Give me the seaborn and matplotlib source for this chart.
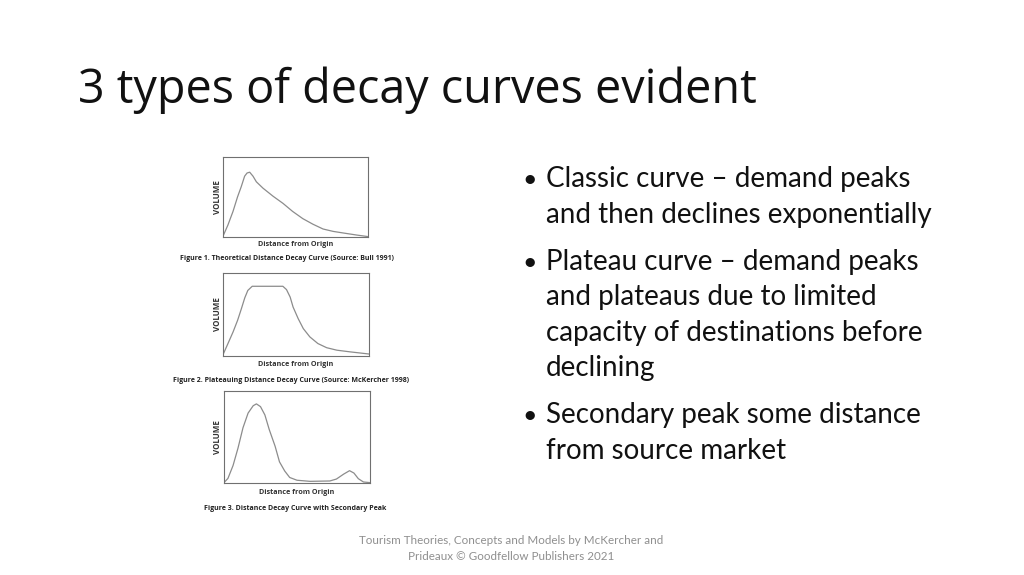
import matplotlib
matplotlib.use("Agg")
import matplotlib.pyplot as plt
import seaborn as sns

# curve readings (x: share of distance axis, y: share of volume axis)
classic_x = [0.0, 0.034, 0.069, 0.10, 0.126, 0.149, 0.166, 0.184, 0.207, 0.23, 0.276,
             0.345, 0.414, 0.48, 0.55, 0.62, 0.69, 0.76, 0.83, 0.92, 1.0]
classic_y = [0.01, 0.15, 0.32, 0.50, 0.63, 0.76, 0.80, 0.81, 0.76, 0.69, 0.61,
             0.51, 0.42, 0.32, 0.23, 0.16, 0.10, 0.07, 0.05, 0.025, 0.005]

plateau_x = [0.0, 0.034, 0.069, 0.10, 0.126, 0.149, 0.17, 0.2, 0.25, 0.34, 0.41, 0.435,
             0.46, 0.48, 0.515, 0.55, 0.595, 0.65, 0.71, 0.78, 0.87, 1.0]
plateau_y = [0.016, 0.15, 0.29, 0.43, 0.57, 0.70, 0.79, 0.84, 0.84, 0.84, 0.84, 0.80,
             0.71, 0.59, 0.45, 0.33, 0.23, 0.15, 0.10, 0.07, 0.05, 0.024]

secondary_x = [0.0, 0.027, 0.062, 0.096, 0.13, 0.165, 0.2, 0.222, 0.25, 0.28, 0.31, 0.35,
               0.38, 0.416, 0.45, 0.5, 0.59, 0.725, 0.77, 0.82, 0.86, 0.89, 0.92, 0.955, 1.0]
secondary_y = [0.004, 0.05, 0.19, 0.38, 0.60, 0.76, 0.84, 0.86, 0.83, 0.74, 0.58, 0.40,
               0.23, 0.13, 0.06, 0.03, 0.018, 0.022, 0.043, 0.097, 0.134, 0.108, 0.047, 0.011, 0.004]

captions = [
    "Figure 1. Theoretical Distance Decay Curve (Source: Bull 1991)",
    "Figure 2. Plateauing Distance Decay Curve (Source: McKercher 1998)",
    "Figure 3. Distance Decay Curve with Secondary Peak",
]

title = "3 types of decay curves evident"
bullets = [
    ["Classic curve \u2013 demand peaks", "and then declines exponentially"],
    ["Plateau curve \u2013 demand peaks", "and plateaus due to limited",
     "capacity of destinations before", "declining"],
    ["Secondary peak some distance", "from source market"],
]
footer = ["Tourism Theories, Concepts and Models by McKercher and",
          "Prideaux \u00a9 Goodfellow Publishers 2021"]

W, H = 1024, 575

sns.set_style("white")
plt.rcParams['font.family'] = ['Open Sans', 'DejaVu Sans']

fig = plt.figure(figsize=(W / 100, H / 100), dpi=100)
fig.patch.set_facecolor("white")


def px(x, y):
    return x / W, 1 - y / H


# panels: (left, top, right, bottom) in pixels
boxes = [(223, 157, 368, 237), (223, 273, 369, 356), (224, 391, 370, 483)]
curves = [(classic_x, classic_y), (plateau_x, plateau_y), (secondary_x, secondary_y)]
label_y = [244, 365, 492]
caption_y = [259, 381, 508]
caption_x = [287, 291, 295]

for i, ((l, t, r, b), (cx, cy)) in enumerate(zip(boxes, curves)):
    ax = fig.add_axes([l / W, 1 - b / H, (r - l) / W, (b - t) / H])
    sns.lineplot(x=cx, y=cy, ax=ax, color="#8c8c8c", linewidth=0.9)
    ax.set_xlim(0, 1)
    ax.set_ylim(0, 1)
    ax.set_xticks([])
    ax.set_yticks([])
    for s in ax.spines.values():
        s.set_color("#707070")
        s.set_linewidth(0.8)
    fig.text(*px(217, (t + b) / 2), "VOLUME", rotation=90, ha="center", va="center",
             fontsize=5.8, fontweight="bold", color="#333333")
    fig.text(*px((l + r) / 2, label_y[i]), "Distance from Origin", ha="center", va="center",
             fontsize=5.2, fontweight="bold", color="#333333")
    fig.text(*px(caption_x[i], caption_y[i]), captions[i], ha="center", va="center",
             fontsize=5.0, fontweight="bold", color="#222222")

# title
fig.text(*px(78, 103), title, ha="left", va="baseline", fontsize=33.7,
         family=['Open Sans', 'DejaVu Sans'], color="#111111")

# bullets
baselines = [[187, 223], [270, 305, 341, 376], [423, 459]]
for lines, ys in zip(bullets, baselines):
    fig.text(*px(530, ys[0]), "\u2022", ha="center", va="baseline", fontsize=18,
             family=['Lato', 'DejaVu Sans'], color="#111111")
    for line, y in zip(lines, ys):
        fig.text(*px(546, y), line, ha="left", va="baseline", fontsize=20,
                 family=['Lato', 'DejaVu Sans'], color="#111111")

# footer
for line, y in zip(footer, [541, 556]):
    fig.text(*px(511, y), line, ha="center", va="center", fontsize=8.4,
             family=['Lato', 'DejaVu Sans'], color="#8f8f8f")

fig.savefig("out.png", dpi=100, facecolor="white")
